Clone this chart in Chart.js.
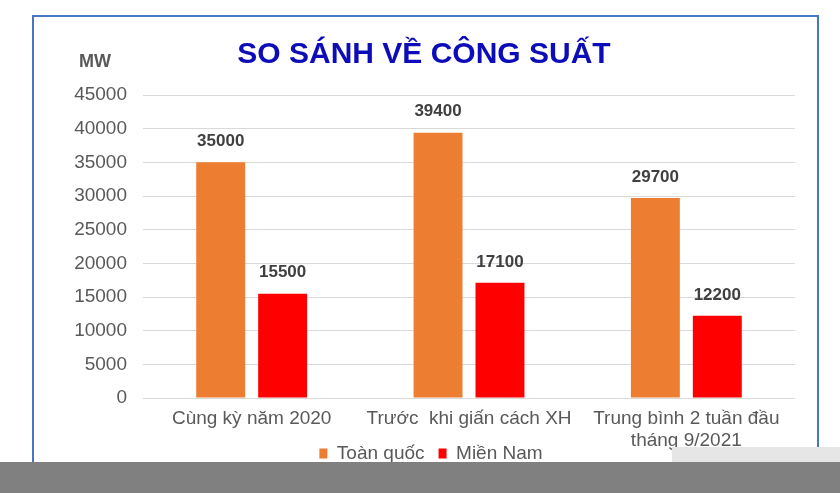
<!DOCTYPE html>
<html lang="vi">
<head>
<meta charset="utf-8">
<title>So sánh về công suất</title>
<script src="https://cdn.jsdelivr.net/npm/chart.js@4.4.1/dist/chart.umd.min.js"></script>
<style>
    html, body { margin: 0; padding: 0; background: #ffffff; }
    #wrap { position: relative; width: 840px; height: 493px; overflow: hidden; }
    #chart { position: absolute; left: 0; top: 0; }
    .frame { position: absolute; left: 32px; top: 15px; width: 783px; height: 470px; border: 2px solid #4a76c0; }
    .band { position: absolute; left: 0; top: 462px; width: 840px; height: 31px; background: #808080; }
    .patch { position: absolute; left: 672px; top: 447px; width: 168px; height: 15px; background: #e6e6e6; }
</style>
</head>
<body>
<div id="wrap">
    <div class="frame"></div>
    <canvas id="chart" width="840" height="493"></canvas>
    <div class="patch"></div>
    <div class="band"></div>
</div>
<script>
// Data
const categories = ['Cùng kỳ năm 2020', 'Trước  khi giấn cách XH', ['Trung bình 2 tuần đầu', 'tháng 9/2021']];
const toanQuoc = [35000, 39400, 29700];
const mienNam = [15500, 17100, 12200];
const seriesNames = ['Toàn quốc', 'Miền Nam'];
const yTicks = [0, 5000, 10000, 15000, 20000, 25000, 30000, 35000, 40000, 45000];

const FONT = "'Liberation Sans', Arial, sans-serif";

// Title, unit label and value labels
const annotate = {
    id: 'annotate',
    afterLayout(chart) {
        // let the two-line category label run into the legend row
        chart.scales.x.bottom = chart.height;
    },
    afterDatasetsDraw(chart) {
        const ctx = chart.ctx;
        ctx.save();
        ctx.font = 'bold 17px ' + FONT;
        ctx.fillStyle = '#404040';
        ctx.textAlign = 'center';
        ctx.textBaseline = 'middle';
        chart.data.datasets.forEach((ds, i) => {
            chart.getDatasetMeta(i).data.forEach((bar, j) => {
                ctx.fillText(String(ds.data[j]), bar.x, bar.y - 21);
            });
        });
        ctx.restore();
    },
    afterDraw(chart) {
        const ctx = chart.ctx;
        ctx.save();
        ctx.textBaseline = 'alphabetic';
        ctx.textAlign = 'center';
        ctx.fillStyle = '#0c0cb8';
        ctx.font = 'bold 30px ' + FONT;
        ctx.fillText('SO SÁNH VỀ CÔNG SUẤT', 424, 63);
        ctx.textAlign = 'left';
        ctx.fillStyle = '#595959';
        ctx.font = 'bold 18px ' + FONT;
        ctx.fillText('MW', 79, 67);
        ctx.restore();
    }
};

const ctx = document.getElementById('chart').getContext('2d');
new Chart(ctx, {
    type: 'bar',
    data: {
        labels: categories,
        datasets: [
            {
                label: seriesNames[0],
                data: toanQuoc,
                backgroundColor: '#ed7d31',
                categoryPercentage: 0.57,
                barPercentage: 0.79
            },
            {
                label: seriesNames[1],
                data: mienNam,
                backgroundColor: '#ff0000',
                categoryPercentage: 0.57,
                barPercentage: 0.79
            }
        ]
    },
    options: {
        responsive: false,
        animation: false,
        layout: { padding: { top: 95, right: 45, bottom: 20, left: 67 } },
        plugins: {
            title: { display: false },
            tooltip: { enabled: false },
            legend: {
                position: 'bottom',
                labels: {
                    color: '#595959',
                    font: { family: FONT, size: 19 },
                    boxWidth: 8,
                    boxHeight: 10,
                    padding: 14
                }
            }
        },
        scales: {
            y: {
                min: 0,
                max: 45000,
                afterFit(scale) { scale.width = 76; },
                afterBuildTicks(scale) { scale.ticks = yTicks.map(v => ({ value: v })); },
                ticks: {
                    color: '#595959',
                    font: { family: FONT, size: 19 },
                    padding: 16,
                    callback: v => String(v)
                },
                grid: { color: '#d9d9d9', drawTicks: false },
                border: { display: false }
            },
            x: {
                afterFit(scale) { scale.height = 32; },
                ticks: {
                    color: '#595959',
                    font: { family: FONT, size: 19, lineHeight: 1.15 },
                    padding: 10,
                    maxRotation: 0,
                    minRotation: 0,
                    autoSkip: false
                },
                grid: { display: false, drawTicks: false },
                border: { display: false }
            }
        }
    },
    plugins: [annotate]
});
</script>
</body>
</html>
